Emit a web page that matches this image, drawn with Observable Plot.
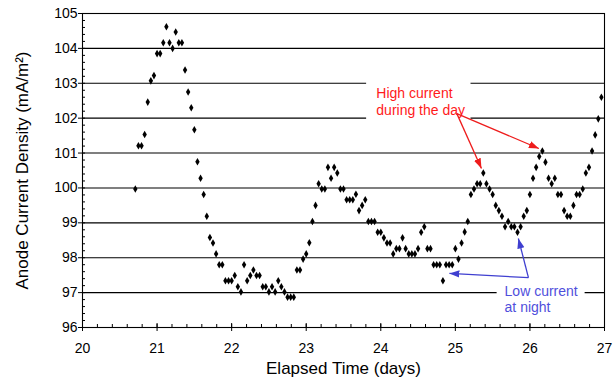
<!DOCTYPE html>
<html><head><meta charset="utf-8">
<script src="https://cdn.jsdelivr.net/npm/d3@7"></script>
<script src="https://cdn.jsdelivr.net/npm/@observablehq/plot@0.6"></script>
<style>html,body{margin:0;padding:0;background:#fff;}</style>
</head><body><div id="chart"></div>
<script>
// Hourly readings; first reading at hour 17 after day 20
const firstHour = 17;
const currentDensity = [
 99.97, 101.21, 101.21, 101.53, 102.46, 103.07, 103.22, 103.85, 103.85, 104.16,
 104.62, 104.16, 104.00, 104.47, 104.16, 104.16, 103.38, 102.75, 102.30, 101.67,
 100.75, 100.28, 99.81, 99.19, 98.58, 98.42, 98.11, 97.80, 97.80, 97.34,
 97.34, 97.34, 97.49, 97.17, 97.02, 97.80, 97.34, 97.49, 97.65, 97.49,
 97.49, 97.17, 97.17, 97.02, 97.17, 97.02, 97.34, 97.17, 97.02, 96.87,
 96.87, 96.87, 97.65, 97.65, 97.96, 98.11, 98.43, 99.04, 99.50, 100.12,
 99.97, 99.97, 100.59, 100.28, 100.59, 100.43, 99.97, 99.97, 99.66, 99.66,
 99.66, 99.82, 99.35, 99.50, 99.66, 99.04, 99.04, 99.04, 98.73, 98.73,
 98.57, 98.42, 98.42, 98.11, 98.26, 98.26, 98.57, 98.26, 98.11, 98.11,
 98.11, 98.26, 98.73, 98.89, 98.26, 98.26, 97.80, 97.80, 97.80, 97.34,
 97.80, 97.80, 97.80, 98.26, 97.96, 98.42, 98.74, 99.04, 99.81, 99.97,
 100.12, 100.12, 100.43, 100.12, 99.97, 99.81, 99.50, 99.35, 99.19, 98.89,
 99.04, 98.89, 98.89, 98.73, 98.89, 99.19, 99.35, 99.81, 100.28, 100.59,
 100.90, 101.06, 100.74, 100.28, 100.12, 100.28, 99.81, 99.81, 99.35, 99.19,
 99.19, 99.50, 99.81, 99.81, 99.97, 100.43, 100.59, 101.06, 101.52, 101.98,
 102.60
];
const xTicks = [20, 21, 22, 23, 24, 25, 26, 27];
const yTicks = [96, 97, 98, 99, 100, 101, 102, 103, 104, 105];
const gridValues = [97, 98, 99, 100, 101, 102, 103, 104];
const xTitle = "Elapsed Time (days)";
const yTitle = "Anode Current Density (mA/m\u00B2)";

// annotations (data coordinates)
const dayText = [
  {day: 23.94, value: 102.71, text: "High current"},
  {day: 23.94, value: 102.22, text: "during the day"}
];
const nightText = [
  {day: 25.66, value: 97.04, text: "Low current"},
  {day: 25.66, value: 96.58, text: "at night"}
];
const dayArrows = [
  {d1: 25.02, v1: 102.13, d2: 25.35, v2: 100.56},
  {d1: 25.02, v1: 102.13, d2: 26.12, v2: 101.13}
];
const nightArrows = [
  {d1: 25.98, v1: 97.43, d2: 24.92, v2: 97.55},
  {d1: 25.98, v1: 97.43, d2: 25.845, v2: 98.55}
];
const labelBoxes = [
  {d1: 23.81, d2: 25.21, v1: 101.9, v2: 103.1},
  {d1: 25.56, d2: 26.74, v1: 96.6, v2: 97.25}
];

const points = currentDensity.map((v, i) => ({day: 20 + (firstHour + i) / 24, value: v}));
const xMinor = d3.range(20, 27.001, 0.2);
const yMinor = d3.range(96, 105.001, 0.2);

const svg = Plot.plot({
  width: 614, height: 378,
  marginLeft: 82, marginRight: 10, marginTop: 13, marginBottom: 51,
  x: {domain: [20, 27]},
  y: {domain: [96, 105]},
  style: {fontFamily: "'Liberation Sans', Arial, sans-serif", background: "white", color: "black"},
  marks: [
    Plot.ruleY(gridValues, {stroke: "black", strokeWidth: 1.1}),
    Plot.rect(labelBoxes, {x1: "d1", x2: "d2", y1: "v1", y2: "v2", fill: "white"}),
    Plot.frame({stroke: "black", strokeWidth: 1.1}),
    Plot.axisY({ticks: yTicks, tickSize: 4, tickPadding: 1, fontSize: 14, tickFormat: d => String(d), label: null}),
    Plot.axisY({ticks: yMinor, tickSize: 3, dx: 3, tickFormat: () => "", label: null}),
    Plot.axisX({ticks: xTicks, tickSize: 4, tickPadding: 12, fontSize: 14, tickFormat: d => String(d), label: null}),
    Plot.axisX({ticks: xTicks, tickSize: 4, dy: -4, tickFormat: () => "", label: null}),
    Plot.axisX({ticks: xMinor, tickSize: 3, dy: -3, tickFormat: () => "", label: null}),
    Plot.text([yTitle], {frameAnchor: "left", dx: -60, rotate: -90, fontSize: 17, textAnchor: "middle", lineAnchor: "middle"}),
    Plot.text([xTitle], {frameAnchor: "bottom", dy: 41, fontSize: 17, textAnchor: "middle", lineAnchor: "middle"}),
    Plot.text(dayText, {x: "day", y: "value", text: "text", textAnchor: "start", fill: "#ff1a1a", fontSize: 14}),
    Plot.text(nightText, {x: "day", y: "value", text: "text", textAnchor: "start", fill: "#4f4fdc", fontSize: 14}),
    Plot.link(dayArrows, {x1: "d1", y1: "v1", x2: "d2", y2: "v2", stroke: "#ee1c1c", strokeWidth: 1.3, markerEnd: "arrow"}),
    Plot.link(nightArrows, {x1: "d1", y1: "v1", x2: "d2", y2: "v2", stroke: "#3f3fd0", strokeWidth: 1.3, markerEnd: "arrow"}),
    Plot.dot(points, {x: "day", y: "value", symbol: "diamond", r: 2.3, fill: "black"})
  ]
});

svg.querySelectorAll("marker").forEach(m => {
  const color = m.getAttribute("stroke") || "black";
  m.setAttribute("viewBox", "-10 -5 10 10");
  m.setAttribute("markerUnits", "userSpaceOnUse");
  m.setAttribute("markerWidth", 10);
  m.setAttribute("markerHeight", 10);
  m.setAttribute("fill", color);
  m.setAttribute("stroke", "none");
  const p = m.querySelector("path");
  if (p) p.setAttribute("d", "M-10,-3.6L0,0L-10,3.6Z");
});
document.getElementById("chart").appendChild(svg);
</script>
</body></html>
